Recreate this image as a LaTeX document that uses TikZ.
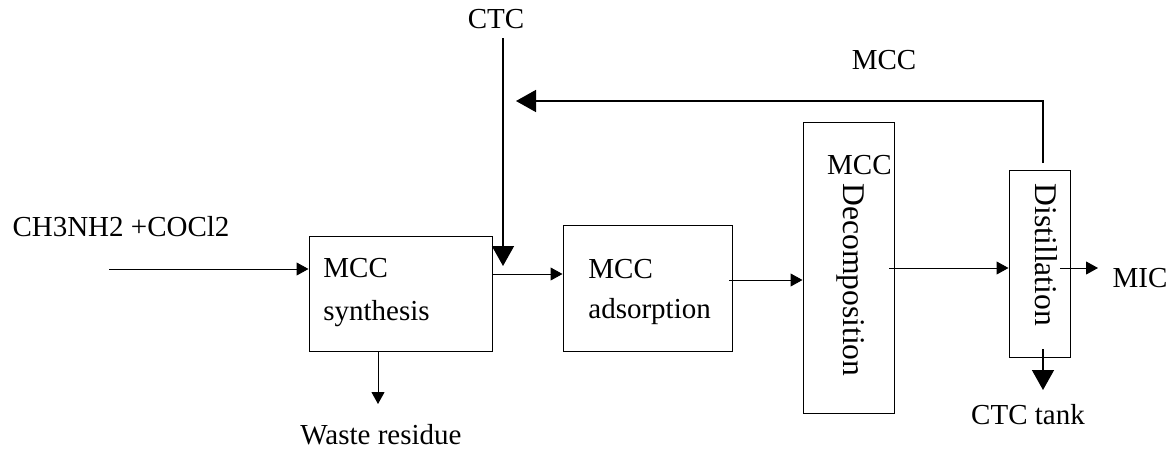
\documentclass[tikz,border=0pt]{standalone}
\usepackage{fontspec}
\setmainfont{Liberation Serif}
\usetikzlibrary{arrows.meta}
\begin{document}
\begin{tikzpicture}[x=0.5pt,y=-0.5pt,
  every node/.style={font=\fontsize{14.5}{22}\selectfont, inner sep=0pt},
  procbox/.style={draw, line width=0.5pt, inner sep=0pt},
  rottext/.style={rotate=-90, font=\fontsize{15.8}{20}\selectfont},
  thin/.style={line width=0.5pt},
  thick2/.style={line width=0.75pt},
  smallhead/.style={-{Triangle[length=6pt,width=6.5pt]}},
  bighead/.style={-{Triangle[length=10pt,width=11pt]}}]
\useasboundingbox (0,0) rectangle (1174,451);
% boxes
\node[procbox, minimum width=91.5pt, minimum height=57.5pt] (b1) at (400.5,293.5) {};
\node[anchor=base west] (b1a) at (323,277) {MCC};
\node[anchor=base west] (b1b) at (323,320) {synthesis};
\node[procbox, minimum width=84.5pt, minimum height=63pt] (b2) at (647.5,288) {};
\node[anchor=base west] (b2a) at (588,278) {MCC};
\node[anchor=base west] (b2b) at (588,318) {adsorption};
\node[procbox, minimum width=45.5pt, minimum height=145.5pt] (b3) at (848.5,267.5) {};
\node[anchor=east] (t3a) at (892,165) {MCC};
\node[rottext] (t3b) at (851,280) {Decomposition};
\node[procbox, minimum width=30.5pt, minimum height=93.5pt] (b4) at (1039.5,263.5) {};
\node[rottext] (t4) at (1046,255) {Distillation};
% labels
\node (feed) at (121,227) {CH3NH2 +COCl2};
\node (ctc) at (496,19) {CTC};
\node (mccl) at (884,60) {MCC};
\node (waste) at (381,435) {Waste residue};
\node (mic) at (1140,278) {MIC};
\node (tank) at (1028,415) {CTC tank};
% coordinates
\coordinate (fin) at (109,269);
\coordinate (wend) at (378,404);
\coordinate (ctctop) at (503,38);
\coordinate (ctcend) at (503,266);
\coordinate (o1) at (492,274);
\coordinate (o2) at (729,280);
\coordinate (o3) at (889,268);
\coordinate (o4) at (1060,268);
\coordinate (micend) at (1098,268);
\coordinate (tstart) at (1043,349);
\coordinate (tend) at (1043,390);
\coordinate (rtop) at (1043,163);
\coordinate (rcorner) at (1043,101);
\coordinate (rend) at (516,101);
% connectors
\draw[thin, smallhead] (fin) -- (fin -| b1.west);
\draw[thin, smallhead] (b1.south -| wend) -- (wend);
\draw[thick2, bighead] (ctctop) -- (ctcend);
\draw[thin, smallhead] (o1) -- (o1 -| b2.west);
\draw[thin, smallhead] (o2) -- (o2 -| b3.west);
\draw[thin, smallhead] (o3) -- (o3 -| b4.west);
\draw[thin, smallhead] (o4) -- (micend);
\draw[thick2, bighead] (tstart) -- (tend);
\draw[thick2, bighead] (rtop) -- (rcorner) -- (rend);
\end{tikzpicture}
\end{document}
